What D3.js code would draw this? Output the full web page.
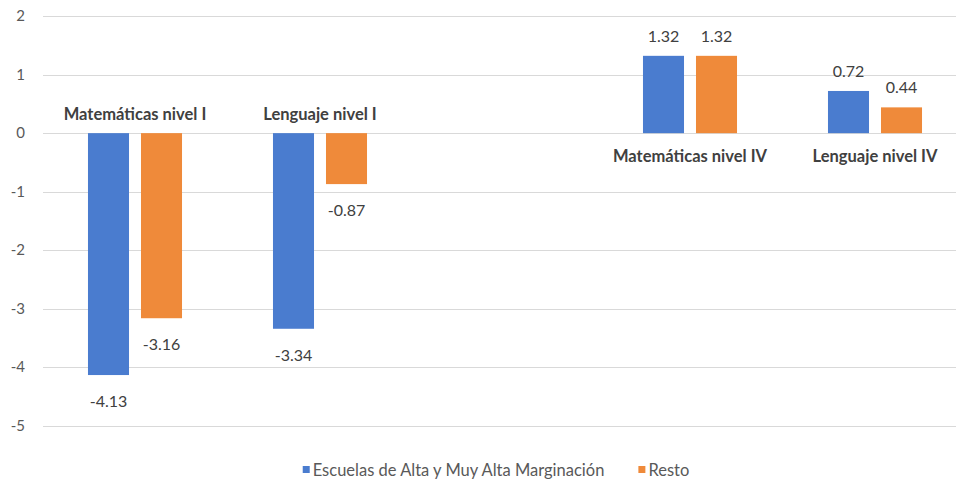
<!DOCTYPE html>
<html>
<head>
<meta charset="utf-8">
<script src="https://cdn.jsdelivr.net/npm/d3@7"></script>
<style>
  html, body { margin: 0; padding: 0; background: #fff; }
  svg { display: block; font-family: Lato, "Open Sans", sans-serif; }
</style>
</head>
<body>
<svg id="chart" width="956" height="484"></svg>
<script>
const categories = ["Matemáticas nivel I", "Lenguaje nivel I", "", "Matemáticas nivel IV", "Lenguaje nivel IV"];
const seriesNames = ["Escuelas de Alta y Muy Alta Marginación", "Resto"];
const escuelas = [-4.13, -3.34, null, 1.32, 0.72];
const resto = [-3.16, -0.87, null, 1.32, 0.44];
const yTicks = [2, 1, 0, -1, -2, -3, -4, -5];
const colors = ["#4A7CCF", "#EF8A3A"];

const svg = d3.select("#chart");
const W = 956, H = 484;

const y = d3.scaleLinear().domain([-5, 2]).range([426, 16]);
const x = d3.scaleBand().domain(categories).range([42.5, 967.5]).padding(0);
const xs = d3.scaleBand().domain(seriesNames).range([0, x.bandwidth()])
  .paddingInner(0.226).paddingOuter(0.858);

// grid
svg.append("g").selectAll("line").data(yTicks).join("line")
  .attr("x1", 43).attr("x2", W)
  .attr("y1", d => Math.round(y(d)) + 0.5).attr("y2", d => Math.round(y(d)) + 0.5)
  .attr("stroke", "#d9d9d9").attr("stroke-width", 1);

// y tick labels
svg.append("g").selectAll("text").data(yTicks).join("text")
  .attr("x", 25).attr("y", d => y(d) + 5)
  .attr("text-anchor", "end")
  .attr("font-size", 15).attr("fill", "#595959")
  .text(d => d);

const data = categories.map((c, i) => ({
  cat: c,
  vals: [{s: seriesNames[0], v: escuelas[i]}, {s: seriesNames[1], v: resto[i]}]
}));

const groups = svg.append("g").selectAll("g").data(data).join("g")
  .attr("transform", d => `translate(${x(d.cat)},0)`);

groups.selectAll("rect").data(d => d.vals.filter(e => e.v !== null)).join("rect")
  .attr("x", e => xs(e.s))
  .attr("width", xs.bandwidth())
  .attr("y", e => y(Math.max(0, e.v)))
  .attr("height", e => Math.abs(y(e.v) - y(0)))
  .attr("fill", e => colors[seriesNames.indexOf(e.s)]);

groups.selectAll("text.val").data(d => d.vals.filter(e => e.v !== null)).join("text")
  .attr("class", "val")
  .attr("x", e => xs(e.s) + xs.bandwidth() / 2)
  .attr("y", e => e.v >= 0 ? y(e.v) - 14 : y(e.v) + 32)
  .attr("text-anchor", "middle")
  .attr("font-size", 16).attr("fill", "#404040")
  .text(e => e.v.toFixed(2));

// category labels
groups.filter(d => d.cat !== "").append("text")
  .attr("x", x.bandwidth() / 2)
  .attr("y", d => (d.vals[0].v < 0) ? y(0) - 13 : y(0) + 29)
  .attr("text-anchor", "middle")
  .attr("font-size", 16.5).attr("font-weight", "bold").attr("fill", "#404040")
  .text(d => d.cat);

// legend
const leg = svg.append("g");
const items = leg.selectAll("g").data(seriesNames).join("g");
items.append("rect").attr("width", 7).attr("height", 7).attr("y", -10)
  .attr("fill", (d, i) => colors[i]);
items.append("text").attr("x", 10).attr("y", 0)
  .attr("font-size", 16.5).attr("fill", "#595959").text(d => d);
let xoff = 0;
const gap = 34;
items.each(function() {
  const g = d3.select(this);
  g.attr("transform", `translate(${xoff},0)`);
  xoff += 10 + g.select("text").node().getComputedTextLength() + gap;
});
const total = xoff - gap;
leg.attr("transform", `translate(${496 - total / 2},${476})`);
</script>
</body>
</html>
